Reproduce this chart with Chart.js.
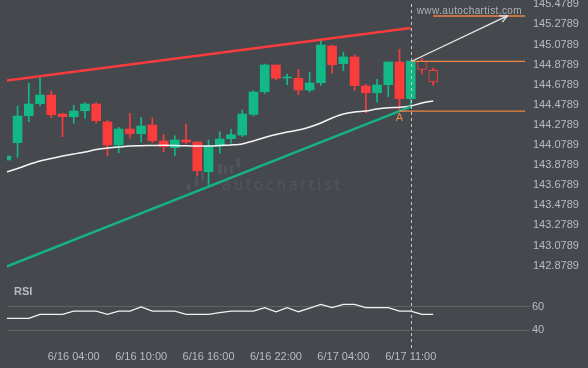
<!DOCTYPE html>
<html>
<head>
<meta charset="utf-8">
<script src="https://cdn.jsdelivr.net/npm/chart.js@4.4.1/dist/chart.umd.min.js"></script>
<style>
  html, body { margin: 0; padding: 0; background: #45484d; }
  #wrap { position: relative; width: 588px; height: 368px; overflow: hidden; }
  canvas { position: absolute; left: 0; }
  #main { top: 0; }
  #rsi { top: 285px; }
</style>
</head>
<body>
<div id="wrap">
  <canvas id="main" width="588" height="285"></canvas>
  <canvas id="rsi" width="588" height="83"></canvas>
</div>
<script>
// hourly candles
const opens  = [143.930, 144.102, 144.370, 144.490, 144.576, 144.387, 144.361, 144.420, 144.487, 144.308,
                144.079, 144.238, 144.191, 144.278, 144.119, 144.052, 144.129, 144.109, 143.813, 144.069,
                144.142, 144.178, 144.384, 144.609, 144.875, 144.746, 144.743, 144.626, 144.699, 145.064,
                144.888, 144.955, 144.666, 144.599, 144.679, 144.905, 144.540, 144.912, 144.822];
const highs  = [143.979, 144.467, 144.693, 144.753, 144.616, 144.394, 144.474, 144.500, 144.500, 144.328,
                144.255, 144.394, 144.355, 144.348, 144.185, 144.169, 144.288, 144.109, 144.129, 144.211,
                144.235, 144.427, 144.619, 144.885, 144.875, 144.785, 144.832, 144.805, 145.117, 145.074,
                145.004, 144.977, 144.686, 144.733, 144.905, 145.031, 144.915, 144.942, 144.845];
const lows   = [143.920, 143.957, 144.311, 144.470, 144.351, 144.162, 144.295, 144.345, 144.295, 143.972,
                144.002, 144.146, 144.106, 144.102, 144.012, 143.976, 144.089, 143.773, 143.664, 143.996,
                144.096, 144.162, 144.367, 144.593, 144.726, 144.679, 144.579, 144.606, 144.673, 144.792,
                144.818, 144.623, 144.400, 144.504, 144.560, 144.417, 144.457, 144.785, 144.673];
const closes = [143.969, 144.367, 144.487, 144.576, 144.380, 144.361, 144.417, 144.487, 144.321, 144.079,
                144.238, 144.191, 144.268, 144.122, 144.062, 144.129, 144.109, 143.823, 144.062, 144.139,
                144.181, 144.387, 144.606, 144.875, 144.743, 144.756, 144.626, 144.696, 145.074, 144.878,
                144.955, 144.669, 144.599, 144.676, 144.905, 144.540, 144.915, 144.832, 144.706];
const movingAvg = [143.810, 143.845, 143.885, 143.920, 143.945, 143.970, 143.989, 144.009, 144.034, 144.049,
                   144.059, 144.069, 144.072, 144.074, 144.076, 144.074, 144.071, 144.069, 144.069, 144.074,
                   144.079, 144.089, 144.119, 144.154, 144.183, 144.208, 144.228, 144.258, 144.298, 144.348,
                   144.387, 144.407, 144.417, 144.437, 144.449, 144.454, 144.467, 144.497, 144.517];
const rsiValues = [50.1, 50.1, 50.1, 53.4, 53.4, 53.4, 56.2, 56.2, 56.2, 53.4,
                   56.2, 56.2, 59.6, 56.2, 56.2, 56.2, 53.4, 53.4, 53.4, 54.8,
                   56.2, 56.2, 56.2, 59.0, 55.6, 59.0, 55.6, 58.7, 61.8, 59.0,
                   61.8, 61.8, 59.0, 59.0, 59.0, 56.2, 56.2, 53.4, 53.4];

// pattern lines: [candle index, price]
const resistance = [[0, 144.719], [36, 145.243]];
const support    = [[0, 142.868], [36, 144.460]];
const forecast   = [[36.08, 144.912], [44.6, 145.363]];
const breakoutLevel = 144.912;
const lowLevel      = 144.417;
const targetLevel   = 145.363;
const patternEnd = 36;
const firstHollow = 37;

const yTicks = [142.8789, 143.0789, 143.2789, 143.4789, 143.6789, 143.8789, 144.0789,
                144.2789, 144.4789, 144.6789, 144.8789, 145.0789, 145.2789, 145.4789];
const rsiTicks = [40, 60];
const xTickIdx = [6, 12, 18, 24, 30, 36];
const xTickLabels = ['6/16 04:00', '6/16 10:00', '6/16 16:00', '6/16 22:00', '6/17 04:00', '6/17 11:00'];

const BG = '#45484d';
const GREEN = '#12b886';
const RED = '#fa3c3c';
const ORANGE = '#ef8540';
const TXT = '#b9bcc1';
const X_MIN = 0.06, X_MAX = 46.17;

Chart.defaults.font.family = "'Liberation Sans', Arial, sans-serif";
Chart.defaults.font.size = 11;
Chart.defaults.color = TXT;

const idx = opens.map((_, i) => i);
const colorOf = i => closes[i] >= opens[i] ? GREEN : RED;
const pts = arr => arr.map(p => ({ x: p[0], y: p[1] }));
const levelLine = (from, v) => [{ x: from, y: v }, { x: X_MAX + 1, y: v }];
const noPad = s => { s.paddingTop = 0; s.paddingBottom = 0; s.paddingLeft = 0; s.paddingRight = 0; };

const lineDs = (data, color, width, extra) => Object.assign({
  type: 'line', data, borderColor: color, borderWidth: width,
  pointRadius: 0, fill: false, tension: 0
}, extra || {});

const overlay = {
  id: 'overlay',
  beforeDatasetsDraw(chart) {
    const ctx = chart.ctx;
    ctx.save();
    // faint watermark
    ctx.fillStyle = 'rgba(255,255,255,0.07)';
    [[187, 184, 3, 6], [195, 177, 3, 9], [201, 172, 3, 9], [218, 164, 4, 10],
     [224, 166, 3, 8], [230, 165, 3, 8], [236, 158, 4, 9]].forEach(r => ctx.fillRect(r[0], r[1], r[2], r[3]));
    ctx.font = "15px 'DejaVu Sans'";
    ctx.letterSpacing = '2.5px';
    ctx.textBaseline = 'alphabetic';
    ctx.fillText('autochartist', 222, 190);
    ctx.restore();
  },
  afterDatasetsDraw(chart) {
    const ctx = chart.ctx;
    const x = chart.scales.x, y = chart.scales.y;
    ctx.save();
    // arrow head
    const x1 = x.getPixelForValue(forecast[0][0]), y1 = y.getPixelForValue(forecast[0][1]);
    const x2 = x.getPixelForValue(forecast[1][0]), y2 = y.getPixelForValue(forecast[1][1]);
    const a = Math.atan2(y2 - y1, x2 - x1);
    ctx.strokeStyle = '#e8e8e8';
    ctx.lineWidth = 1.3;
    ctx.beginPath();
    ctx.moveTo(x2 - 8 * Math.cos(a - 0.45), y2 - 8 * Math.sin(a - 0.45));
    ctx.lineTo(x2, y2);
    ctx.lineTo(x2 - 8 * Math.cos(a + 0.45), y2 - 8 * Math.sin(a + 0.45));
    ctx.stroke();
    // point label
    ctx.fillStyle = ORANGE;
    ctx.font = "11px 'Liberation Sans', Arial";
    ctx.textAlign = 'center';
    ctx.textBaseline = 'middle';
    ctx.fillText('A', x.getPixelForValue(patternEnd - 1), y.getPixelForValue(lows[patternEnd - 1]) + 7);
    // dashed end line
    const px = Math.round(x.getPixelForValue(patternEnd)) + 0.5;
    ctx.strokeStyle = '#c4c6c9';
    ctx.lineWidth = 1;
    ctx.setLineDash([3, 3]);
    ctx.beginPath();
    ctx.moveTo(px, 4);
    ctx.lineTo(px, chart.height);
    ctx.stroke();
    ctx.setLineDash([]);
    // site text
    ctx.fillStyle = '#aeb1b6';
    ctx.font = "10px 'Liberation Sans', Arial";
    ctx.letterSpacing = '0.4px';
    ctx.textAlign = 'right';
    ctx.textBaseline = 'alphabetic';
    ctx.fillText('www.autochartist.com', 522, 14);
    ctx.restore();
  }
};

new Chart(document.getElementById('main'), {
  type: 'bar',
  data: {
    datasets: [
      lineDs(pts(forecast), '#e8e8e8', 1.3, { order: 0 }),
      lineDs(levelLine(firstHollow + 1, targetLevel), ORANGE, 1.5, { order: 0 }),
      lineDs(levelLine(patternEnd, breakoutLevel), ORANGE, 1.3, { order: 0 }),
      lineDs(levelLine(patternEnd - 1, lowLevel), ORANGE, 1.3, { order: 0 }),
      lineDs(pts(resistance), RED, 2.5, { order: 0 }),
      lineDs(pts(support), '#16b283', 2.5, { order: 0 }),
      lineDs(idx.map(i => ({ x: i, y: movingAvg[i] })), 'rgba(255,255,255,0.95)', 1.5, { order: 0, tension: 0.3 }),
      {
        type: 'bar',
        data: idx.map(i => ({ x: i, y: [opens[i], closes[i]] })),
        backgroundColor: idx.map(i => i >= firstHollow ? BG : colorOf(i)),
        borderColor: idx.map(colorOf),
        borderWidth: idx.map(i => i >= firstHollow ? 1 : 0),
        borderSkipped: false,
        barThickness: 9,
        minBarLength: 1,
        grouped: false,
        order: 1
      },
      {
        type: 'bar',
        data: idx.map(i => ({ x: i, y: [lows[i], highs[i]] })),
        backgroundColor: idx.map(colorOf),
        borderWidth: 0,
        barThickness: 1,
        grouped: false,
        order: 2
      }
    ]
  },
  options: {
    responsive: false,
    animation: false,
    layout: { padding: { left: 7, top: 0, right: 0, bottom: 0 } },
    plugins: { legend: { display: false }, tooltip: { enabled: false } },
    scales: {
      x: { type: 'linear', min: X_MIN, max: X_MAX, offset: false, display: false },
      y: {
        position: 'right',
        min: 142.686, max: 145.5217,
        grid: { display: false, drawTicks: false },
        border: { display: false },
        afterBuildTicks: s => { s.ticks = yTicks.map(v => ({ value: v })); },
        afterFit: s => { s.width = 63; noPad(s); },
        ticks: { padding: 8, callback: v => v.toFixed(4) }
      }
    }
  },
  plugins: [overlay]
});

const rsiOverlay = {
  id: 'rsiOverlay',
  afterDatasetsDraw(chart) {
    const ctx = chart.ctx;
    const px = Math.round(chart.scales.x.getPixelForValue(patternEnd)) + 0.5;
    ctx.save();
    ctx.strokeStyle = '#c4c6c9';
    ctx.lineWidth = 1;
    ctx.setLineDash([3, 3]);
    ctx.beginPath();
    ctx.moveTo(px, 0);
    ctx.lineTo(px, 66);
    ctx.stroke();
    ctx.setLineDash([]);
    ctx.fillStyle = TXT;
    ctx.font = "bold 11px 'Liberation Sans', Arial";
    ctx.textBaseline = 'middle';
    ctx.fillText('RSI', 14, 7);
    ctx.restore();
  }
};

new Chart(document.getElementById('rsi'), {
  type: 'line',
  data: {
    datasets: [lineDs(idx.map(i => ({ x: i, y: rsiValues[i] })), '#f2f2f2', 1.3)]
  },
  options: {
    responsive: false,
    animation: false,
    layout: { padding: { left: 7, top: 0, right: 0, bottom: 0 } },
    plugins: { legend: { display: false }, tooltip: { enabled: false } },
    scales: {
      x: {
        type: 'linear', min: X_MIN, max: X_MAX, offset: false,
        grid: { display: false, drawTicks: false },
        border: { display: false },
        afterBuildTicks: s => { s.ticks = xTickIdx.map(v => ({ value: v })); },
        afterFit: s => { s.height = 23; noPad(s); },
        ticks: {
          padding: 5, autoSkip: false, maxRotation: 0,
          callback: v => xTickLabels[xTickIdx.indexOf(v)]
        }
      },
      y: {
        position: 'right',
        min: 27.65, max: 78.07,
        grid: { color: '#5e6361', tickLength: 5, drawTicks: true },
        border: { display: false },
        afterBuildTicks: s => { s.ticks = rsiTicks.map(v => ({ value: v })); },
        afterFit: s => { s.width = 63; noPad(s); },
        ticks: { padding: 2 }
      }
    }
  },
  plugins: [rsiOverlay]
});
</script>
</body>
</html>
